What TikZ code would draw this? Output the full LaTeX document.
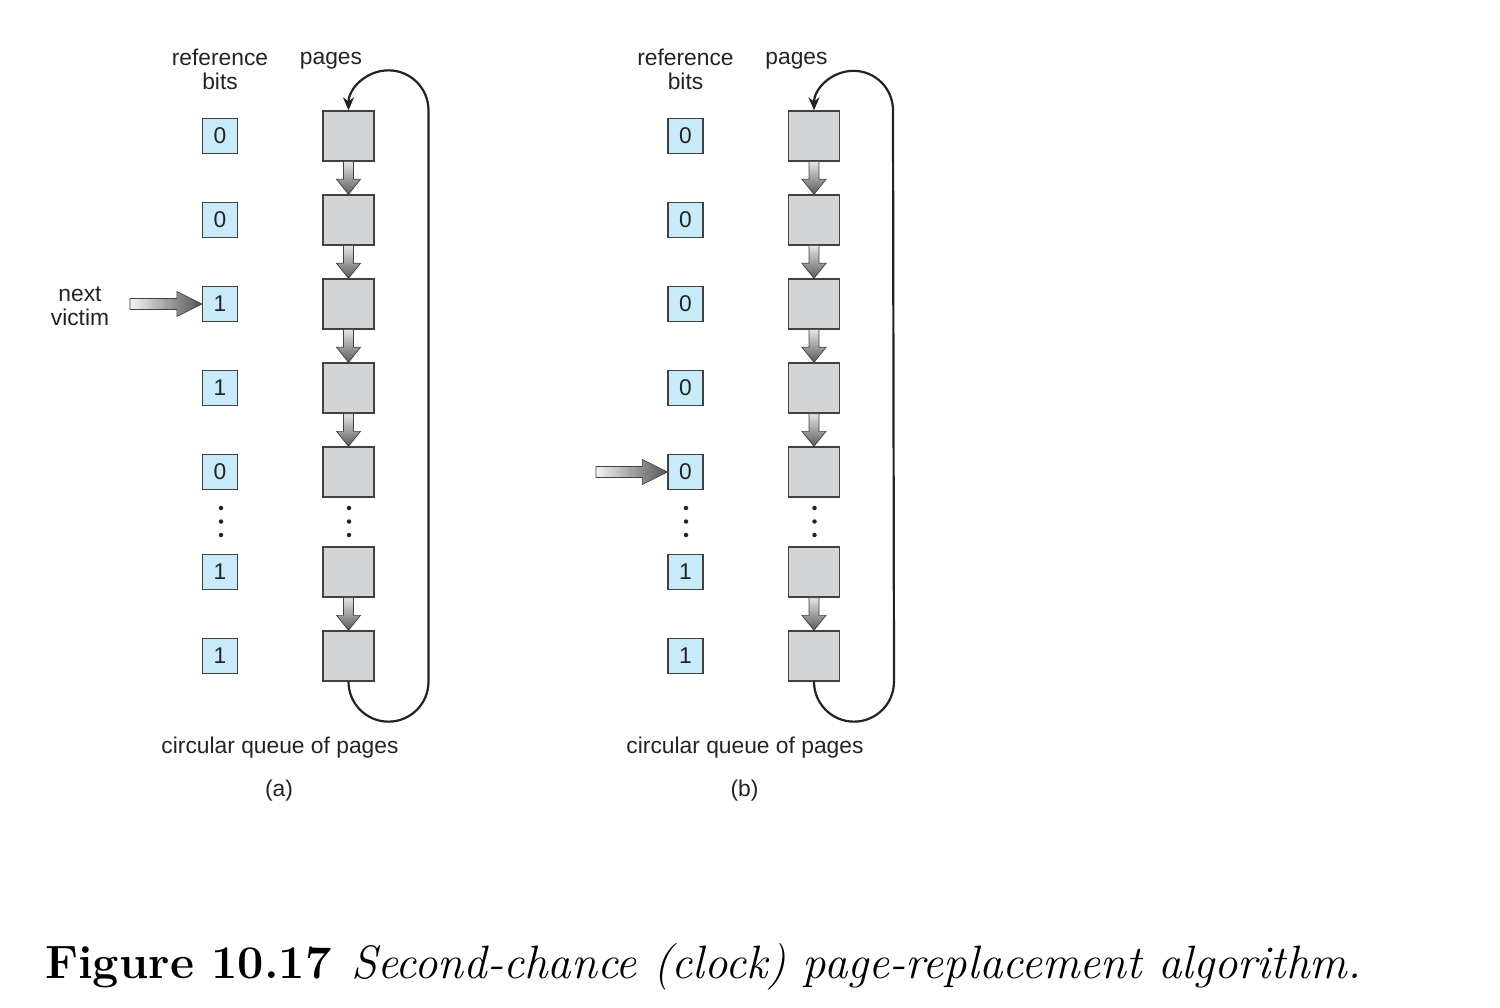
\documentclass[tikz,border=0pt]{standalone}
\usepackage{fontspec}
\setsansfont{Liberation Sans}
\usetikzlibrary{calc,arrows.meta}
\definecolor{pagefill}{RGB}{211,212,214}
\definecolor{bitfill}{RGB}{200,235,250}
\definecolor{edge}{RGB}{65,65,65}
\definecolor{ink}{RGB}{35,35,35}
\tikzset{
  bitbox/.style={draw=edge, line width=1.3pt, fill=bitfill, minimum width=35pt,
    minimum height=35pt, inner sep=0pt, text=ink, font=\sffamily\fontsize{22.8}{24}\selectfont},
  pagebox/.style={draw=edge, line width=1.3pt, fill=pagefill, minimum width=51pt,
    minimum height=50pt, inner sep=0pt},
  lbl/.style={font=\sffamily\fontsize{22.8}{25}\selectfont, text=ink, inner sep=0pt, anchor=base},
  looppath/.style={line width=2.2pt, draw=ink},
  dotmark/.style={fill=ink, circle, inner sep=0pt, minimum size=4.5pt},
  blockarrow/.style={draw=edge, line width=0.7pt},
}
\newcommand\pagearrow[2]{%
  \shade[blockarrow, top color=gray!20, bottom color=gray!70!black]
    ($(#1.south)+(-5,0)$) -- ($(#2.north)+(-5,-15)$) -- ($(#2.north)+(-12,-15)$)
    -- (#2.north) -- ($(#2.north)+(12,-15)$) -- ($(#2.north)+(5,-15)$)
    -- ($(#1.south)+(5,0)$) -- cycle;}
\newcommand\victimarrow[2]{%
  \shade[blockarrow, left color=gray!10, right color=gray!65!black]
    ($(#1)+(0,-5.5)$) -- ($(#2.west)+(-25,-5.5)$) -- ($(#2.west)+(-25,-12.5)$)
    -- (#2.west) -- ($(#2.west)+(-25,12.5)$) -- ($(#2.west)+(-25,5.5)$)
    -- ($(#1)+(0,5.5)$) -- cycle;}
\begin{document}
\begin{tikzpicture}[x=1pt,y=-1pt]
\useasboundingbox (0,0) rectangle (1500,1008);
% ---------- panel (a) ----------
\foreach \v [count=\i] in {0,0,1,1,0,1,1} {
  \ifnum\i<6 \pgfmathsetmacro\yy{136+84*(\i-1)} \else \pgfmathsetmacro\yy{572+84*(\i-6)} \fi
  \node[bitbox] (bA\i) at (220,\yy) {\v};
  \node[pagebox] (pA\i) at (348.5,\yy) {};
}
\node[lbl] (refA) at (220,66) {reference};
\node[lbl] (bitsA) at (220,90) {bits};
\node[lbl] (pagesA) at (331,65) {pages};
\node[lbl] (nextA) at (80,302) {next};
\node[lbl] (victimA) at (80,326) {victim};
\node[lbl] (cqA) at (280,753) {circular queue of pages};
\node[lbl] (capA) at (279,796) {(a)};
\foreach \a/\b in {1/2,2/3,3/4,4/5,6/7} { \pagearrow{pA\a}{pA\b} }
\foreach \yy [count=\k] in {508,521.5,535} {
  \node[dotmark] (dbA\k) at (221,\yy) {};
  \node[dotmark] (dpA\k) at (349,\yy) {};
}
\coordinate (vA) at (130,304);
\victimarrow{vA}{bA3}
\draw[looppath, -{Stealth[length=13pt,width=11pt]}] (pA7.south)
  arc[start angle=180, end angle=0, radius=40]
  -- ($(pA1.north)+(80,0)$)
  arc[start angle=360, end angle=180, radius=40];
% ---------- panel (b) ----------
\foreach \v [count=\i] in {0,0,0,0,0,1,1} {
  \ifnum\i<6 \pgfmathsetmacro\yy{136+84*(\i-1)} \else \pgfmathsetmacro\yy{572+84*(\i-6)} \fi
  \node[bitbox] (bB\i) at (685.5,\yy) {\v};
  \node[pagebox] (pB\i) at (814,\yy) {};
}
\node[lbl] (refB) at (685.5,66) {reference};
\node[lbl] (bitsB) at (685.5,90) {bits};
\node[lbl] (pagesB) at (796.5,65) {pages};
\node[lbl] (cqB) at (745,753) {circular queue of pages};
\node[lbl] (capB) at (744.5,796) {(b)};
\foreach \a/\b in {1/2,2/3,3/4,4/5,6/7} { \pagearrow{pB\a}{pB\b} }
\foreach \yy [count=\k] in {508,521.5,535} {
  \node[dotmark] (dbB\k) at (686,\yy) {};
  \node[dotmark] (dpB\k) at (814.5,\yy) {};
}
\coordinate (vB) at (596,472);
\victimarrow{vB}{bB5}
\draw[looppath, -{Stealth[length=13pt,width=11pt]}] (pB7.south)
  arc[start angle=180, end angle=0, radius=40]
  -- ($(pB1.north)+(79,0)$)
  arc[start angle=360, end angle=180, radius=39.5];
% ---------- caption ----------
\node[anchor=base west, inner sep=0pt, font=\fontsize{46.8}{50}\selectfont] (fig) at (45,978)
  {\textbf{Figure 10.17}\hspace{0.42em}\textit{Second-chance (clock) page-replacement algorithm.}};
\end{tikzpicture}
\end{document}
